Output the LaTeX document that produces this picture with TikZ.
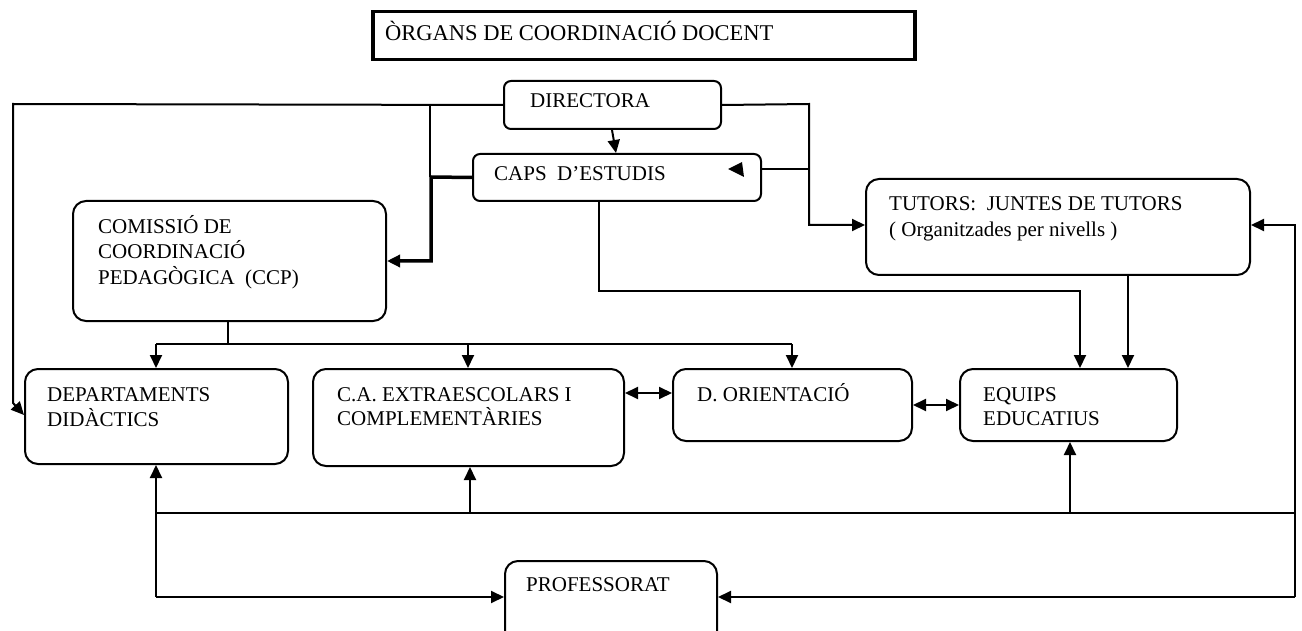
\documentclass[tikz,border=0pt]{standalone}
\usepackage{fontspec}
\setmainfont{Liberation Serif}
\usetikzlibrary{arrows.meta}
\begin{document}
\begin{tikzpicture}[x=1pt,y=-1pt,
  box/.style={draw, line width=2pt, rounded corners=#1, anchor=north west, inner sep=0pt},
  box/.default=13pt,
  lbl/.style={anchor=base west, inner sep=0pt, font=\fontsize{21}{25}\selectfont},
  conn/.style={line width=2pt},
  arr/.style={conn, -{Triangle[length=13pt,width=12pt]}},
  dbl/.style={conn, {Triangle[length=13pt,width=12pt]}-{Triangle[length=13pt,width=12pt]}}]
\useasboundingbox (0,0) rectangle (1302,631);
\clip (0,0) rectangle (1302,631);

% title
\node[draw, line width=3.5pt, anchor=north west, inner sep=0pt, minimum width=542pt, minimum height=48pt] (title) at (371,10) {};
\node[lbl, font=\fontsize{22.5}{26}\selectfont] (title-t) at (385,41) {ÒRGANS DE COORDINACIÓ DOCENT};

% boxes
\node[box=7pt, minimum width=217pt, minimum height=48pt] (dir) at (503,80) {};
\node[lbl] (dir-t) at (530,108) {DIRECTORA};

\node[box=7pt, minimum width=288pt, minimum height=47pt] (caps) at (472,153) {};
\node[lbl] (caps-t) at (494,181) {CAPS\ \ D’ESTUDIS};
\fill (728,169) -- (742,162) -- (744,177) -- cycle;

\node[box, minimum width=384pt, minimum height=96pt] (tut) at (865,178) {};
\node[lbl] (tut-t1) at (889,211) {TUTORS:\ \ JUNTES DE TUTORS};
\node[lbl] (tut-t2) at (889,237) {( Organitzades per nivells )};

\node[box, minimum width=313pt, minimum height=120pt] (ccp) at (72,200) {};
\node[lbl] (ccp-t1) at (98,234) {COMISSIÓ DE};
\node[lbl] (ccp-t2) at (98,259) {COORDINACIÓ};
\node[lbl] (ccp-t3) at (98,284) {PEDAGÒGICA\ \ (CCP)};

\node[box, minimum width=263pt, minimum height=95pt] (dept) at (24,368) {};
\node[lbl] (dept-t1) at (47,401) {DEPARTAMENTS};
\node[lbl] (dept-t2) at (47,426) {DIDÀCTICS};

\node[box, minimum width=311pt, minimum height=97pt] (ca) at (312,368) {};
\node[lbl] (ca-t1) at (337,401) {C.A. EXTRAESCOLARS I};
\node[lbl] (ca-t2) at (337,425) {COMPLEMENTÀRIES};

\node[box, minimum width=239pt, minimum height=72pt] (dor) at (672,368) {};
\node[lbl] (dor-t) at (697,401) {D. ORIENTACIÓ};

\node[box, minimum width=217pt, minimum height=72pt] (equ) at (959,368) {};
\node[lbl] (equ-t1) at (983,401) {EQUIPS};
\node[lbl] (equ-t2) at (983,425) {EDUCATIUS};

\node[box, minimum width=212pt, minimum height=90pt] (prof) at (504,560) {};
\node[lbl] (prof-t) at (526,591) {PROFESSORAT};

% connectors
\draw[arr] (dir.west) -- (13,104) -- (13,403) -- (dept.west |- 0,415);
\draw[conn] (430,104) -- (430,177);
\draw[arr, line width=3.5pt] (caps.west) -- (431,177) -- (431,261) -- (ccp.east |- 0,261);
\draw[arr] (dir.south -| 612,0) -- (caps.north -| 616,0);
\draw[arr] (dir.east) -- (809,104) -- (809,225) -- (tut.west |- 0,225);
\draw[conn] (caps.east |- 0,169) -- (809,169);
\draw[arr] (caps.south -| 599,0) -- (599,291) -- (1080,291) -- (equ.north -| 1080,0);
\draw[arr] (tut.south -| 1128,0) -- (equ.north -| 1128,0);

\draw[conn] (ccp.south -| 228,0) -- (228,344);
\draw[conn] (156,344) -- (792,344);
\draw[arr] (156,344) -- (dept.north -| 156,0);
\draw[arr] (468,344) -- (ca.north -| 468,0);
\draw[arr] (792,344) -- (dor.north -| 792,0);

\draw[dbl] (ca.east |- 0,393) -- (dor.west |- 0,393);
\draw[dbl] (dor.east |- 0,405) -- (equ.west |- 0,405);

\draw[arr] (156,597) -- (dept.south -| 156,0);
\draw[conn] (156,513) -- (1295,513);
\draw[arr] (470,513) -- (ca.south -| 470,0);
\draw[arr] (1070,513) -- (equ.south -| 1070,0);
\draw[arr] (156,597) -- (prof.west |- 0,597);
\draw[arr] (1295,597) -- (1295,225) -- (tut.east |- 0,225);
\draw[arr] (1295,597) -- (prof.east |- 0,597);
\end{tikzpicture}
\end{document}
